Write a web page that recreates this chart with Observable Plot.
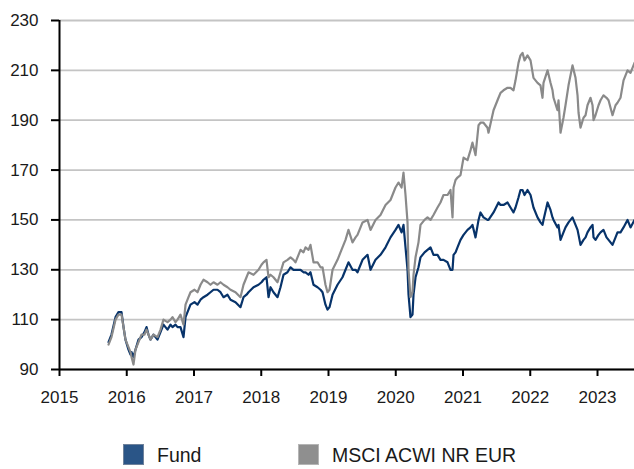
<!DOCTYPE html>
<html>
<head>
<meta charset="utf-8">
<script src="https://cdn.jsdelivr.net/npm/d3@7"></script>
<script src="https://cdn.jsdelivr.net/npm/@observablehq/plot@0.6"></script>
<style>
  html, body { margin: 0; padding: 0; background: #fff; }
  body { width: 634px; height: 469px; position: relative; font-family: "Liberation Sans", Arial, sans-serif; overflow: hidden; }
  #chart { position: absolute; left: 0; top: 0; }
  .leg { position: absolute; font-size: 19.5px; color: #1a1a1a; line-height: 1; }
  .sw { position: absolute; width: 21px; height: 21px; box-sizing: border-box; }
</style>
</head>
<body>
<div id="chart"></div>
<div class="sw" style="left:123px; top:444px; background:#2a5587; border:1px solid #6f829b;"></div>
<div class="leg" style="left:157px; top:446px;">Fund</div>
<div class="sw" style="left:298px; top:444px; background:#8f8f8f; border:1px solid #b5b5b5;"></div>
<div class="leg" style="left:332px; top:446px;">MSCI ACWI NR EUR</div>
<script>
// decimal years
const years = [
  2015.729,2015.773,2015.833,2015.877,2015.922,2015.952,2015.981,2016.026,2016.056,2016.071,
  2016.100,2016.130,2016.175,2016.219,2016.264,2016.294,2016.323,2016.353,2016.398,2016.457,
  2016.502,2016.546,2016.606,2016.651,2016.680,2016.725,2016.755,2016.799,2016.844,2016.874,
  2016.918,2016.948,2017.007,2017.052,2017.097,2017.141,2017.201,2017.245,2017.290,2017.349,
  2017.394,2017.439,2017.498,2017.543,2017.617,2017.691,2017.736,2017.781,2017.810,2017.885,
  2017.959,2018.004,2018.033,2018.078,2018.108,2018.138,2018.182,2018.242,2018.286,2018.331,
  2018.390,2018.435,2018.480,2018.509,2018.554,2018.584,2018.628,2018.658,2018.703,2018.732,
  2018.777,2018.837,2018.881,2018.911,2018.955,2018.985,2019.015,2019.060,2019.134,2019.208,
  2019.253,2019.297,2019.357,2019.402,2019.431,2019.506,2019.580,2019.625,2019.699,2019.773,
  2019.848,2019.922,2019.996,2020.041,2020.086,2020.115,2020.145,2020.175,2020.190,2020.219,
  2020.249,2020.264,2020.294,2020.338,2020.368,2020.428,2020.472,2020.517,2020.561,2020.621,
  2020.665,2020.710,2020.770,2020.814,2020.844,2020.859,2020.889,2020.918,2020.963,2021.008,
  2021.067,2021.112,2021.141,2021.186,2021.231,2021.260,2021.305,2021.364,2021.379,2021.454,
  2021.528,2021.558,2021.602,2021.662,2021.706,2021.751,2021.781,2021.825,2021.855,2021.885,
  2021.915,2021.959,2022.004,2022.048,2022.108,2022.152,2022.182,2022.197,2022.257,2022.301,
  2022.331,2022.346,2022.405,2022.420,2022.450,2022.494,2022.524,2022.569,2022.628,2022.673,
  2022.703,2022.718,2022.747,2022.792,2022.822,2022.851,2022.896,2022.926,2022.941,2022.970,
  2023.015,2023.045,2023.089,2023.134,2023.164,2023.223,2023.268,2023.297,2023.342,2023.387,
  2023.446,2023.491,2023.550
];
const fund = [
  101,104,111,113,113,107,102,98,96,97,
  95,98,102,103,105,107,104,102,104,102,
  105,108,106,108,107,108,107,107,103,111,
  114,116,117,116,118,119,120,121,122,122,
  121,119,120,118,117,115,119,120,121,123,
  124,125,126,127,119,123,121,119,123,128,
  129,131,130,130,130,130,129,129,128,129,
  124,123,122,121,116,114,115,120,124,127,
  130,133,130,130,129,134,136,130,134,136,
  139,143,146,148,145,148,139,130,120,111,
  112,120,127,131,135,137,138,139,136,136,
  134,134,133,130,130,136,137,139,142,144,
  146,147,148,143,150,153,151,150,150,153,
  157,156,156,157,155,153,155,159,162,162,
  160,162,160,155,151,149,148,150,157,154,
  151,150,147,148,142,145,147,149,151,148,
  146,144,140,142,143,145,147,148,143,142,
  144,145,146,143,142,140,143,145,145,147,
  150,147,150
];
const msci = [
  100,103,110,112,112,107,102,99,97,95,
  92,98,101,104,104,106,104,102,104,103,
  106,110,109,110,111,109,110,112,108,116,
  119,121,122,121,124,126,125,124,125,124,
  125,124,123,122,121,119,124,127,129,128,
  130,132,133,134,127,128,127,125,129,133,
  134,135,134,133,136,138,137,139,138,140,
  133,133,131,131,124,121,122,130,134,139,
  142,146,141,143,144,149,150,146,150,152,
  156,158,163,165,163,169,160,149,130,119,
  121,128,135,141,148,150,151,150,152,155,
  157,160,160,162,151,163,166,167,168,175,
  174,178,181,176,188,189,189,187,185,194,
  199,201,202,203,203,202,206,213,216,217,
  214,216,214,207,205,204,199,205,210,205,
  202,199,194,198,185,191,196,204,212,207,
  200,193,187,191,192,196,199,196,190,192,
  196,198,200,199,198,192,196,197,199,206,
  210,209,213
];
const yTicks = [90,110,130,150,170,190,210,230];
const xTicks = [2015,2016,2017,2018,2019,2020,2021,2022,2023];
const seriesNames = ["Fund","MSCI ACWI NR EUR"];

const rows = [];
years.forEach((t, i) => {
  rows.push({t, v: fund[i], s: seriesNames[0]});
  rows.push({t, v: msci[i], s: seriesNames[1]});
});

const chart = Plot.plot({
  width: 634,
  height: 410,
  marginLeft: 59,
  marginRight: 0,
  marginTop: 20,
  marginBottom: 41,
  style: {fontFamily: "Liberation Sans, Arial, sans-serif", fontSize: "17px", color: "#1a1a1a", background: "#fff"},
  x: {type: "linear", domain: [2015, 2023.55]},
  y: {domain: [90, 230]},
  marks: [
    Plot.gridY(yTicks, {stroke: "#c4c4c4", strokeOpacity: 1, strokeWidth: 1.8}),
    Plot.lineY(rows.filter(d => d.s === seriesNames[0]), {x: "t", y: "v", stroke: "#07336a", strokeWidth: 2.2}),
    Plot.lineY(rows.filter(d => d.s === seriesNames[1]), {x: "t", y: "v", stroke: "#8a8a8a", strokeWidth: 2.2}),
    Plot.axisY({ticks: yTicks, tickSize: 8, tickPadding: 13, stroke: "#000", strokeWidth: 2, strokeOpacity: 1, fontSize: 17, label: null, tickFormat: d => String(d)}),
    Plot.axisX({ticks: xTicks, tickSize: 7, tickPadding: 14, stroke: "#000", strokeWidth: 2, strokeOpacity: 1, fontSize: 17, label: null, tickFormat: d => String(d)}),
    Plot.ruleX([2015], {stroke: "#000", strokeWidth: 2}),
    Plot.ruleY([90], {stroke: "#000", strokeWidth: 2})
  ]
});
document.getElementById("chart").appendChild(chart);
</script>
</body>
</html>
